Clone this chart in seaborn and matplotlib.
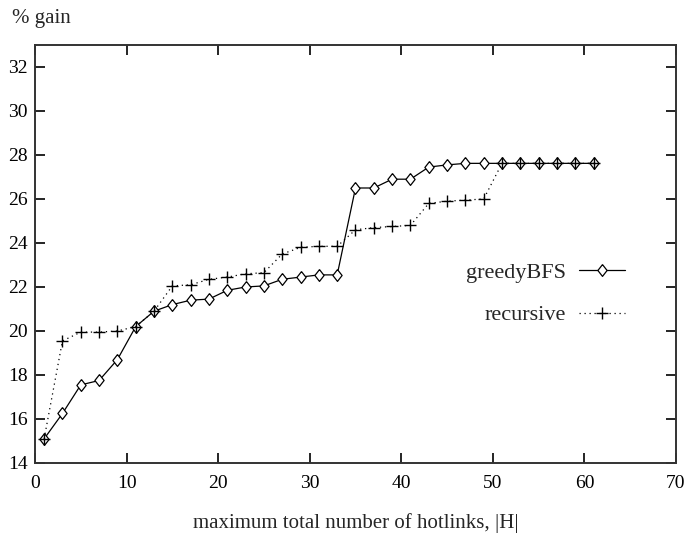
import matplotlib
matplotlib.use("Agg")
import matplotlib.pyplot as plt
import seaborn as sns
import pandas as pd

hotlinks = [1, 3, 5, 7, 9, 11, 13, 15, 17, 19, 21, 23, 25, 27, 29, 31,
            33, 35, 37, 39, 41, 43, 45, 47, 49, 51, 53, 55, 57, 59, 61]
greedy_bfs = [15.1, 16.25, 17.55, 17.75, 18.7, 20.2, 20.9, 21.2, 21.4, 21.45,
              21.85, 22.0, 22.05, 22.35, 22.45, 22.55, 22.55, 26.5, 26.5, 26.9,
              26.9, 27.45, 27.55, 27.62, 27.62, 27.62, 27.62, 27.62, 27.62,
              27.62, 27.62]
recursive = [15.1, 19.55, 19.95, 19.95, 20.0, 20.2, 20.9, 22.05, 22.1, 22.35,
             22.45, 22.6, 22.65, 23.5, 23.8, 23.85, 23.85, 24.6, 24.7, 24.75,
             24.8, 25.8, 25.9, 25.95, 26.0, 27.62, 27.62, 27.62, 27.62, 27.62,
             27.62]
x_ticks = [0, 10, 20, 30, 40, 50, 60, 70]
y_ticks = [14, 16, 18, 20, 22, 24, 26, 28, 30, 32]

df = pd.DataFrame({"H": hotlinks, "greedyBFS": greedy_bfs, "recursive": recursive})

sns.set_style("ticks")
plt.rcParams["font.family"] = ["Liberation Serif", "DejaVu Serif"]

# slightly tall open diamond
tall_diamond = [(0, 1), (0.78, 0), (0, -1), (-0.78, 0), (0, 1)]

fig = plt.figure(figsize=(6.9, 5.35), dpi=100)
ax = fig.add_axes([0.0507, 0.1346, 0.929, 0.7813])

sns.lineplot(data=df, x="H", y="greedyBFS", ax=ax, color="black", lw=0.9,
             marker=tall_diamond, markersize=8.5, markerfacecolor="white",
             markeredgecolor="black", markeredgewidth=0.9, label="greedyBFS")
sns.lineplot(data=df, x="H", y="recursive", ax=ax, color="black", lw=0.9,
             linestyle=(0, (1, 3)), marker="+", markersize=9,
             markeredgecolor="black", markeredgewidth=1.0, label="recursive")

ax.set_xlim(0, 70)
ax.set_ylim(14, 33)
ax.set_xticks(x_ticks)
ax.set_yticks(y_ticks)
ax.tick_params(direction="in", length=7, width=1.2, top=True, right=True,
               labelsize=14, colors="black")
ax.tick_params(axis="x", pad=9)
ax.tick_params(axis="y", pad=5)
for side in ax.spines.values():
    side.set_visible(True)
    side.set_linewidth(1.4)
    side.set_color("#333333")

ax.set_xlabel("maximum total number of hotlinks, |H|", fontsize=15, labelpad=15)
ax.set_ylabel("")
fig.text(0.017, 0.965, "% gain", fontsize=15, ha="left", va="center")

leg = ax.legend(loc="center right", bbox_to_anchor=(0.952, 0.405),
                frameon=False, markerfirst=False, fontsize=16,
                handlelength=2.1, labelspacing=1.0, handletextpad=0.55)

fig.savefig("out.png", dpi=100)
